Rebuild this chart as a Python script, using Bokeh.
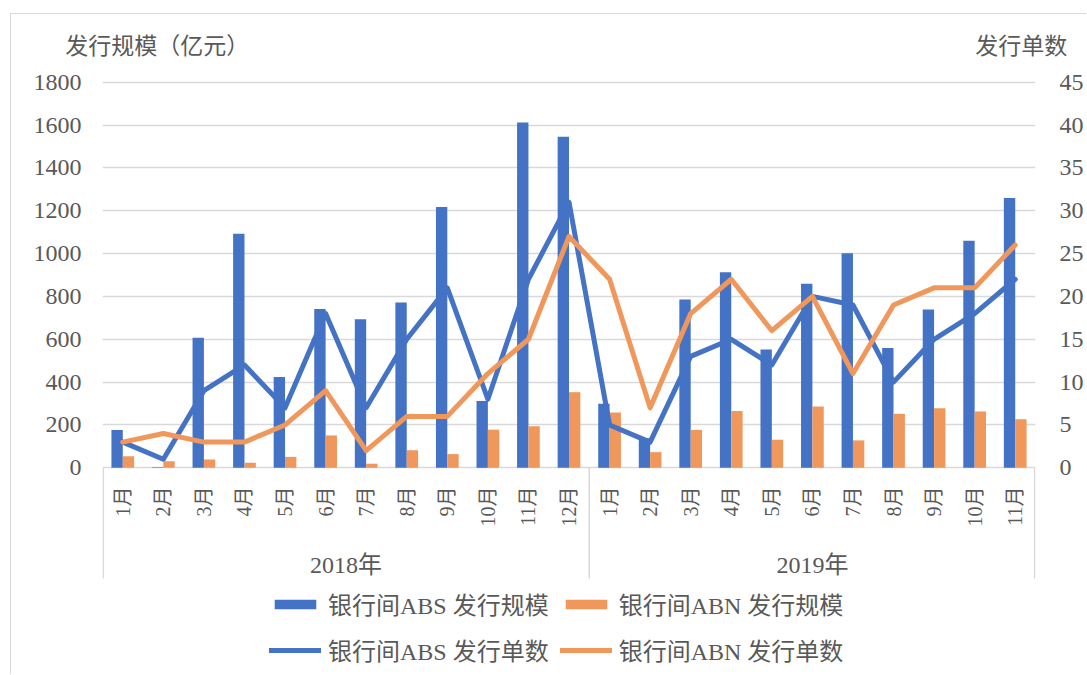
import numpy as np
from bokeh.plotting import figure
from bokeh.models import (Range1d, LinearAxis, FixedTicker, ColumnDataSource,
                          Legend, LegendItem)
from bokeh.transform import dodge
from bokeh.core.properties import value
from bokeh.embed import file_html
from bokeh.resources import INLINE

# ---------------- data ----------------
years = ["2018年", "2019年"]
months_2018 = ["1月", "2月", "3月", "4月", "5月", "6月", "7月", "8月", "9月", "10月", "11月", "12月"]
months_2019 = ["1月", "2月", "3月", "4月", "5月", "6月", "7月", "8月", "9月", "10月", "11月"]

abs_amount = [177, 3, 607, 1092, 424, 741, 694, 772, 1218, 312, 1612, 1545,
              299, 138, 786, 913, 552, 859, 1002, 559, 739, 1060, 1260]
abn_amount = [54, 30, 39, 23, 51, 151, 19, 82, 64, 178, 194, 353,
              258, 73, 177, 265, 131, 286, 128, 252, 278, 263, 227]
abs_count = [3, 1, 9, 12, 7, 18, 7, 15, 21, 8, 22, 31,
             5, 3, 13, 15, 12, 20, 19, 10, 15, 18, 22]
abn_count = [3, 4, 3, 3, 5, 9, 2, 6, 6, 11, 15, 27,
             22, 7, 18, 22, 16, 20, 11, 19, 21, 21, 26]

left_ticks = [0, 200, 400, 600, 800, 1000, 1200, 1400, 1600, 1800]
right_ticks = [0, 5, 10, 15, 20, 25, 30, 35, 40, 45]

left_title = "发行规模（亿元）"
right_title = "发行单数"
series_names = ["银行间ABS 发行规模", "银行间ABN 发行规模", "银行间ABS 发行单数", "银行间ABN 发行单数"]

# ---------------- styling ----------------
BLUE = "#4472C4"
ORANGE = "#F0975B"
GRID = "#D9D9D9"
TEXT = "#595959"
FONT = "Liberation Serif, Noto Sans CJK SC"

months = months_2018 + months_2019
n = len(months)
xs = np.arange(n) + 0.5

src = ColumnDataSource(dict(x=xs, month=months, abs_amount=abs_amount, abn_amount=abn_amount,
                            abs_count=abs_count, abn_count=abn_count))

Y_START, Y_END = -969.6, 1831.3
RATIO = 40.0

p = figure(width=1076, height=661, output_backend="svg", toolbar_location=None,
           x_range=Range1d(0, n), y_range=Range1d(Y_START, Y_END),
           x_axis_location=None, y_axis_location="left",
           min_border_left=91, min_border_right=52, min_border_top=61, min_border_bottom=0)
p.styles = {"margin-left": "10px", "margin-top": "13px",
            "border-left": "1px solid #D9D9D9", "border-top": "1px solid #D9D9D9"}
p.outline_line_color = None
p.background_fill_color = "white"
p.border_fill_color = "white"

p.extra_y_ranges = {"cnt": Range1d(Y_START / RATIO, Y_END / RATIO)}


def style_axis(ax, standoff):
    ax.axis_line_color = None
    ax.major_tick_line_color = None
    ax.minor_tick_line_color = None
    ax.major_tick_out = 0
    ax.major_tick_in = 0
    ax.minor_tick_out = 0
    ax.major_label_text_font = FONT
    ax.major_label_text_font_size = "24px"
    ax.major_label_text_color = TEXT
    ax.major_label_standoff = standoff


# left axis
ya = p.yaxis[0]
ya.ticker = FixedTicker(ticks=left_ticks)
style_axis(ya, 21)

# right axis
ra = LinearAxis(y_range_name="cnt", ticker=FixedTicker(ticks=right_ticks))
style_axis(ra, 24)
p.add_layout(ra, "right")

# axis titles drawn as a top axis with two labelled ticks
title_pos = [1.35, 22.65]
ta = LinearAxis(ticker=FixedTicker(ticks=title_pos),
                major_label_overrides={title_pos[0]: left_title, title_pos[1]: right_title})
style_axis(ta, 17)
ta.major_label_text_font_size = "23px"
p.add_layout(ta, "above")

p.xgrid.visible = False
p.ygrid.ticker = FixedTicker(ticks=left_ticks)
p.ygrid.grid_line_color = GRID
p.ygrid.grid_line_width = 1.5

# bars
r_abs_bar = p.vbar(x=dodge("x", -0.14, range=p.x_range), top="abs_amount", width=0.28,
                   source=src, fill_color=BLUE, line_color=None)
r_abn_bar = p.vbar(x=dodge("x", 0.14, range=p.x_range), top="abn_amount", width=0.28,
                   source=src, fill_color=ORANGE, line_color=None)

# lines
r_abs_line = p.line(x="x", y="abs_count", source=src, y_range_name="cnt", line_color=BLUE,
                    line_width=5, line_join="round", line_cap="round")
r_abn_line = p.line(x="x", y="abn_count", source=src, y_range_name="cnt", line_color=ORANGE,
                    line_width=5, line_join="round", line_cap="round")

# two-level category axis drawn in data space below zero
p.text(x="x", y=-87, text="month", source=src, angle=np.pi / 2,
       text_align="right", text_baseline="middle",
       text_font=value(FONT), text_font_size="20px", text_color=TEXT)

year_x = [len(months_2018) / 2, len(months_2018) + len(months_2019) / 2]
p.text(x=year_x, y=[-456, -456], text=years, text_align="center", text_baseline="middle",
       text_font=value(FONT), text_font_size="24px", text_color=TEXT)

sep_x = [0.02, len(months_2018), n - 0.02]
p.segment(x0=sep_x, y0=[0] * 3, x1=sep_x, y1=[-517] * 3, line_color=GRID, line_width=1.5)

# legend
legend = Legend(items=[LegendItem(label=series_names[0], renderers=[r_abs_bar]),
                       LegendItem(label=series_names[1], renderers=[r_abn_bar]),
                       LegendItem(label=series_names[2], renderers=[r_abs_line]),
                       LegendItem(label=series_names[3], renderers=[r_abn_line])],
                orientation="horizontal", nrows=2,
                location=(167, 8), glyph_width=52, glyph_height=12, label_standoff=7,
                spacing=11, padding=0, margin=0, border_line_color=None,
                background_fill_alpha=0, label_text_font=FONT, label_text_font_size="24px",
                label_text_color=TEXT)
p.add_layout(legend)

open("out.html", "w").write(file_html(p, INLINE))
